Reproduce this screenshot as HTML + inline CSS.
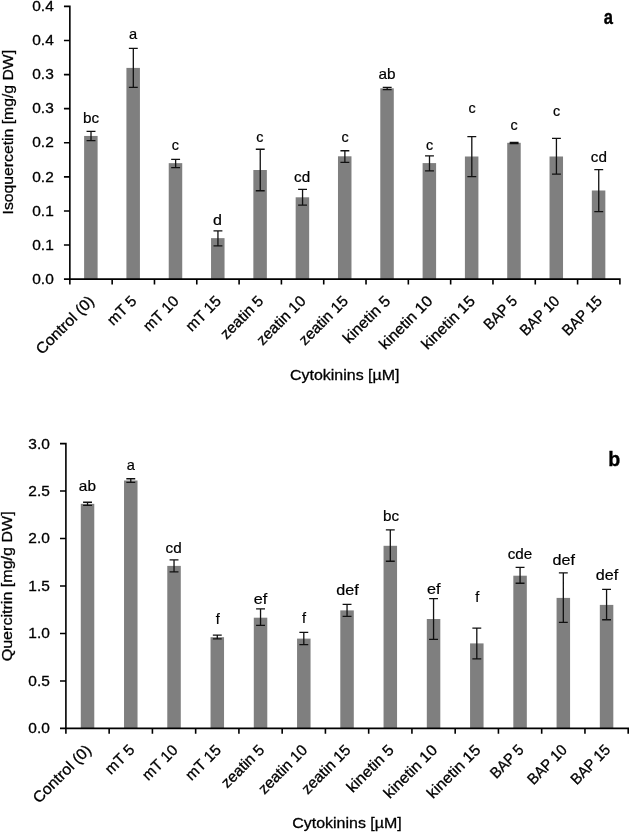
<!DOCTYPE html>
<html lang="en"><head><meta charset="utf-8"><title>Cytokinins charts</title>
<style>html,body{margin:0;padding:0;background:#fff}svg{display:block;will-change:transform}text{font-family:"Liberation Sans",sans-serif;font-size:15.3px;fill:#000;stroke:#000;stroke-width:.3px}.b{font-weight:bold;stroke-width:.35px}.l{font-size:14.5px;stroke-width:.2px}</style></head><body>
<svg width="629" height="832" viewBox="0 0 629 832">
<rect width="629" height="832" fill="#fff"/>
<g>
<rect x="84.11" y="135.95" width="13.50" height="143.15" fill="#7f7f7f"/>
<rect x="126.42" y="67.90" width="13.50" height="211.20" fill="#7f7f7f"/>
<rect x="168.73" y="163.15" width="13.50" height="115.95" fill="#7f7f7f"/>
<rect x="211.04" y="238.15" width="13.50" height="40.95" fill="#7f7f7f"/>
<rect x="253.35" y="170.00" width="13.50" height="109.10" fill="#7f7f7f"/>
<rect x="295.66" y="197.30" width="13.50" height="81.80" fill="#7f7f7f"/>
<rect x="337.98" y="156.30" width="13.50" height="122.80" fill="#7f7f7f"/>
<rect x="380.29" y="88.30" width="13.50" height="190.80" fill="#7f7f7f"/>
<rect x="422.60" y="163.10" width="13.50" height="116.00" fill="#7f7f7f"/>
<rect x="464.91" y="156.50" width="13.50" height="122.60" fill="#7f7f7f"/>
<rect x="507.22" y="142.80" width="13.50" height="136.30" fill="#7f7f7f"/>
<rect x="549.53" y="156.50" width="13.50" height="122.60" fill="#7f7f7f"/>
<rect x="591.84" y="190.50" width="13.50" height="88.60" fill="#7f7f7f"/>
<path d="M69.85 5.60V279.90M63.95 279.10H620.70M63.95 6.40H69.85M63.95 40.49H69.85M63.95 74.58H69.85M63.95 108.66H69.85M63.95 142.75H69.85M63.95 176.84H69.85M63.95 210.93H69.85M63.95 245.01H69.85M112.16 279.10V284.50M154.47 279.10V284.50M196.78 279.10V284.50M239.10 279.10V284.50M281.41 279.10V284.50M323.72 279.10V284.50M366.03 279.10V284.50M408.34 279.10V284.50M450.65 279.10V284.50M492.97 279.10V284.50M535.28 279.10V284.50M577.59 279.10V284.50M619.90 279.10V284.50M69.85 279.10V284.50" stroke="#000" stroke-width="1.6" fill="none"/>
<path d="M91.01 131.30V140.60M86.56 131.30H95.46M86.56 140.60H95.46M133.32 48.30V87.30M128.87 48.30H137.77M128.87 87.30H137.77M175.63 159.45V167.55M171.18 159.45H180.08M171.18 167.55H180.08M217.94 230.95V245.95M213.49 230.95H222.39M213.49 245.95H222.39M260.25 149.25V190.75M255.80 149.25H264.70M255.80 190.75H264.70M302.56 189.45V205.15M298.11 189.45H307.01M298.11 205.15H307.01M344.88 150.75V162.45M340.43 150.75H349.32M340.43 162.45H349.32M387.19 87.35V89.65M382.74 87.35H391.64M382.74 89.65H391.64M429.50 155.85V170.85M425.05 155.85H433.95M425.05 170.85H433.95M471.81 136.65V176.65M467.36 136.65H476.26M467.36 176.65H476.26M514.12 142.35V143.55M509.67 142.35H518.57M509.67 143.55H518.57M556.43 138.45V174.15M551.98 138.45H560.88M551.98 174.15H560.88M598.74 169.55V211.55M594.29 169.55H603.19M594.29 211.55H603.19" stroke="#111" stroke-width="1.3" fill="none"/>
<text x="53.80" y="283.80" text-anchor="end" textLength="21.52" lengthAdjust="spacingAndGlyphs">0.0</text>
<text x="53.80" y="249.71" text-anchor="end" textLength="21.52" lengthAdjust="spacingAndGlyphs">0.1</text>
<text x="53.80" y="215.62" text-anchor="end" textLength="21.52" lengthAdjust="spacingAndGlyphs">0.1</text>
<text x="53.80" y="181.54" text-anchor="end" textLength="21.52" lengthAdjust="spacingAndGlyphs">0.2</text>
<text x="53.80" y="147.45" text-anchor="end" textLength="21.52" lengthAdjust="spacingAndGlyphs">0.2</text>
<text x="53.80" y="113.36" text-anchor="end" textLength="21.52" lengthAdjust="spacingAndGlyphs">0.3</text>
<text x="53.80" y="79.27" text-anchor="end" textLength="21.52" lengthAdjust="spacingAndGlyphs">0.3</text>
<text x="53.80" y="45.19" text-anchor="end" textLength="21.52" lengthAdjust="spacingAndGlyphs">0.4</text>
<text x="53.80" y="11.10" text-anchor="end" textLength="21.52" lengthAdjust="spacingAndGlyphs">0.4</text>
<text class="l" x="91.10" y="122.60" text-anchor="middle" textLength="16.12" lengthAdjust="spacingAndGlyphs">bc</text>
<text class="l" x="133.00" y="38.70" text-anchor="middle" textLength="8.14" lengthAdjust="spacingAndGlyphs">a</text>
<text class="l" x="175.45" y="150.40" text-anchor="middle" textLength="7.19" lengthAdjust="spacingAndGlyphs">c</text>
<text class="l" x="217.40" y="225.00" text-anchor="middle" textLength="8.93" lengthAdjust="spacingAndGlyphs">d</text>
<text class="l" x="259.95" y="141.60" text-anchor="middle" textLength="7.19" lengthAdjust="spacingAndGlyphs">c</text>
<text class="l" x="302.15" y="182.00" text-anchor="middle" textLength="16.12" lengthAdjust="spacingAndGlyphs">cd</text>
<text class="l" x="345.00" y="141.60" text-anchor="middle" textLength="7.19" lengthAdjust="spacingAndGlyphs">c</text>
<text class="l" x="386.95" y="79.40" text-anchor="middle" textLength="17.07" lengthAdjust="spacingAndGlyphs">ab</text>
<text class="l" x="429.70" y="149.90" text-anchor="middle" textLength="7.19" lengthAdjust="spacingAndGlyphs">c</text>
<text class="l" x="472.10" y="113.30" text-anchor="middle" textLength="7.19" lengthAdjust="spacingAndGlyphs">c</text>
<text class="l" x="514.20" y="129.80" text-anchor="middle" textLength="7.19" lengthAdjust="spacingAndGlyphs">c</text>
<text class="l" x="556.55" y="115.80" text-anchor="middle" textLength="7.19" lengthAdjust="spacingAndGlyphs">c</text>
<text class="l" x="598.90" y="161.60" text-anchor="middle" textLength="16.12" lengthAdjust="spacingAndGlyphs">cd</text>
<text transform="translate(95.11 302.00) rotate(-45)" text-anchor="end" textLength="75.26" lengthAdjust="spacingAndGlyphs">Control (0)</text>
<text transform="translate(137.42 302.00) rotate(-45)" text-anchor="end" textLength="34.32" lengthAdjust="spacingAndGlyphs">mT 5</text>
<text transform="translate(179.73 302.00) rotate(-45)" text-anchor="end" textLength="42.94" lengthAdjust="spacingAndGlyphs">mT 10</text>
<text transform="translate(222.04 302.00) rotate(-45)" text-anchor="end" textLength="42.94" lengthAdjust="spacingAndGlyphs">mT 15</text>
<text transform="translate(264.35 302.00) rotate(-45)" text-anchor="end" textLength="53.64" lengthAdjust="spacingAndGlyphs">zeatin 5</text>
<text transform="translate(306.66 302.00) rotate(-45)" text-anchor="end" textLength="62.26" lengthAdjust="spacingAndGlyphs">zeatin 10</text>
<text transform="translate(348.98 302.00) rotate(-45)" text-anchor="end" textLength="62.26" lengthAdjust="spacingAndGlyphs">zeatin 15</text>
<text transform="translate(391.29 302.00) rotate(-45)" text-anchor="end" textLength="59.79" lengthAdjust="spacingAndGlyphs">kinetin 5</text>
<text transform="translate(433.60 302.00) rotate(-45)" text-anchor="end" textLength="68.41" lengthAdjust="spacingAndGlyphs">kinetin 10</text>
<text transform="translate(475.91 302.00) rotate(-45)" text-anchor="end" textLength="68.41" lengthAdjust="spacingAndGlyphs">kinetin 15</text>
<text transform="translate(518.22 302.00) rotate(-45)" text-anchor="end" textLength="40.16" lengthAdjust="spacingAndGlyphs">BAP 5</text>
<text transform="translate(560.53 302.00) rotate(-45)" text-anchor="end" textLength="48.78" lengthAdjust="spacingAndGlyphs">BAP 10</text>
<text transform="translate(602.84 302.00) rotate(-45)" text-anchor="end" textLength="48.78" lengthAdjust="spacingAndGlyphs">BAP 15</text>
<text x="344.70" y="379.60" text-anchor="middle" textLength="109.53" lengthAdjust="spacingAndGlyphs">Cytokinins [µM]</text>
<text transform="translate(12.50 132.20) rotate(-90)" text-anchor="middle" textLength="164.57" lengthAdjust="spacingAndGlyphs">Isoquercetin [mg/g DW]</text>
<text class="b" x="608.40" y="23.50" text-anchor="middle" style="font-size:19.7px" textLength="9.20" lengthAdjust="spacingAndGlyphs">a</text>
</g>
<g>
<rect x="80.78" y="503.85" width="13.50" height="224.55" fill="#7f7f7f"/>
<rect x="124.03" y="480.50" width="13.50" height="247.90" fill="#7f7f7f"/>
<rect x="167.28" y="565.90" width="13.50" height="162.50" fill="#7f7f7f"/>
<rect x="210.54" y="637.20" width="13.50" height="91.20" fill="#7f7f7f"/>
<rect x="253.79" y="617.70" width="13.50" height="110.70" fill="#7f7f7f"/>
<rect x="297.05" y="638.60" width="13.50" height="89.80" fill="#7f7f7f"/>
<rect x="340.30" y="610.40" width="13.50" height="118.00" fill="#7f7f7f"/>
<rect x="383.55" y="545.80" width="13.50" height="182.60" fill="#7f7f7f"/>
<rect x="426.81" y="619.00" width="13.50" height="109.40" fill="#7f7f7f"/>
<rect x="470.06" y="643.40" width="13.50" height="85.00" fill="#7f7f7f"/>
<rect x="513.32" y="575.70" width="13.50" height="152.70" fill="#7f7f7f"/>
<rect x="556.57" y="597.90" width="13.50" height="130.50" fill="#7f7f7f"/>
<rect x="599.82" y="604.90" width="13.50" height="123.50" fill="#7f7f7f"/>
<path d="M65.90 442.80V729.20M60.00 728.40H629.00M60.00 443.60H65.90M60.00 491.07H65.90M60.00 538.53H65.90M60.00 586.00H65.90M60.00 633.47H65.90M60.00 680.93H65.90M109.15 728.40V733.80M152.41 728.40V733.80M195.66 728.40V733.80M238.92 728.40V733.80M282.17 728.40V733.80M325.42 728.40V733.80M368.68 728.40V733.80M411.93 728.40V733.80M455.18 728.40V733.80M498.44 728.40V733.80M541.69 728.40V733.80M584.95 728.40V733.80M628.20 728.40V733.80M65.90 728.40V733.80" stroke="#000" stroke-width="1.6" fill="none"/>
<path d="M87.53 502.25V505.45M83.08 502.25H91.98M83.08 505.45H91.98M130.78 478.75V482.35M126.33 478.75H135.23M126.33 482.35H135.23M174.03 559.85V571.95M169.58 559.85H178.48M169.58 571.95H178.48M217.29 635.15V638.85M212.84 635.15H221.74M212.84 638.85H221.74M260.54 608.95V625.35M256.09 608.95H264.99M256.09 625.35H264.99M303.80 632.35V644.65M299.35 632.35H308.25M299.35 644.65H308.25M347.05 604.35V616.45M342.60 604.35H351.50M342.60 616.45H351.50M390.30 529.85V561.25M385.85 529.85H394.75M385.85 561.25H394.75M433.56 598.65V639.45M429.11 598.65H438.01M429.11 639.45H438.01M476.81 628.15V658.85M472.36 628.15H481.26M472.36 658.85H481.26M520.07 567.35V583.25M515.62 567.35H524.52M515.62 583.25H524.52M563.32 572.95V622.45M558.87 572.95H567.77M558.87 622.45H567.77M606.57 589.45V619.75M602.12 589.45H611.02M602.12 619.75H611.02" stroke="#111" stroke-width="1.3" fill="none"/>
<text x="49.90" y="733.30" text-anchor="end" textLength="21.52" lengthAdjust="spacingAndGlyphs">0.0</text>
<text x="49.90" y="685.83" text-anchor="end" textLength="21.52" lengthAdjust="spacingAndGlyphs">0.5</text>
<text x="49.90" y="638.37" text-anchor="end" textLength="21.52" lengthAdjust="spacingAndGlyphs">1.0</text>
<text x="49.90" y="590.90" text-anchor="end" textLength="21.52" lengthAdjust="spacingAndGlyphs">1.5</text>
<text x="49.90" y="543.43" text-anchor="end" textLength="21.52" lengthAdjust="spacingAndGlyphs">2.0</text>
<text x="49.90" y="495.97" text-anchor="end" textLength="21.52" lengthAdjust="spacingAndGlyphs">2.5</text>
<text x="49.90" y="448.50" text-anchor="end" textLength="21.52" lengthAdjust="spacingAndGlyphs">3.0</text>
<text class="l" x="87.40" y="490.80" text-anchor="middle" textLength="17.07" lengthAdjust="spacingAndGlyphs">ab</text>
<text class="l" x="130.80" y="469.90" text-anchor="middle" textLength="8.14" lengthAdjust="spacingAndGlyphs">a</text>
<text class="l" x="173.70" y="552.70" text-anchor="middle" textLength="16.12" lengthAdjust="spacingAndGlyphs">cd</text>
<text class="l" x="217.65" y="624.10" text-anchor="middle">f</text>
<text class="l" x="260.60" y="604.10" text-anchor="middle" textLength="13.50" lengthAdjust="spacingAndGlyphs">ef</text>
<text class="l" x="304.00" y="622.70" text-anchor="middle">f</text>
<text class="l" x="347.50" y="595.20" text-anchor="middle" textLength="22.43" lengthAdjust="spacingAndGlyphs">def</text>
<text class="l" x="391.00" y="520.90" text-anchor="middle" textLength="16.12" lengthAdjust="spacingAndGlyphs">bc</text>
<text class="l" x="433.75" y="593.60" text-anchor="middle" textLength="13.50" lengthAdjust="spacingAndGlyphs">ef</text>
<text class="l" x="477.25" y="601.90" text-anchor="middle">f</text>
<text class="l" x="520.00" y="559.20" text-anchor="middle" textLength="24.58" lengthAdjust="spacingAndGlyphs">cde</text>
<text class="l" x="563.70" y="564.80" text-anchor="middle" textLength="22.43" lengthAdjust="spacingAndGlyphs">def</text>
<text class="l" x="606.95" y="579.70" text-anchor="middle" textLength="22.43" lengthAdjust="spacingAndGlyphs">def</text>
<text transform="translate(92.13 750.90) rotate(-45)" text-anchor="end" textLength="75.26" lengthAdjust="spacingAndGlyphs">Control (0)</text>
<text transform="translate(135.38 750.90) rotate(-45)" text-anchor="end" textLength="34.32" lengthAdjust="spacingAndGlyphs">mT 5</text>
<text transform="translate(178.63 750.90) rotate(-45)" text-anchor="end" textLength="42.94" lengthAdjust="spacingAndGlyphs">mT 10</text>
<text transform="translate(221.89 750.90) rotate(-45)" text-anchor="end" textLength="42.94" lengthAdjust="spacingAndGlyphs">mT 15</text>
<text transform="translate(265.14 750.90) rotate(-45)" text-anchor="end" textLength="53.64" lengthAdjust="spacingAndGlyphs">zeatin 5</text>
<text transform="translate(308.40 750.90) rotate(-45)" text-anchor="end" textLength="62.26" lengthAdjust="spacingAndGlyphs">zeatin 10</text>
<text transform="translate(351.65 750.90) rotate(-45)" text-anchor="end" textLength="62.26" lengthAdjust="spacingAndGlyphs">zeatin 15</text>
<text transform="translate(394.90 750.90) rotate(-45)" text-anchor="end" textLength="59.79" lengthAdjust="spacingAndGlyphs">kinetin 5</text>
<text transform="translate(438.16 750.90) rotate(-45)" text-anchor="end" textLength="68.41" lengthAdjust="spacingAndGlyphs">kinetin 10</text>
<text transform="translate(481.41 750.90) rotate(-45)" text-anchor="end" textLength="68.41" lengthAdjust="spacingAndGlyphs">kinetin 15</text>
<text transform="translate(524.67 750.90) rotate(-45)" text-anchor="end" textLength="40.16" lengthAdjust="spacingAndGlyphs">BAP 5</text>
<text transform="translate(567.92 750.90) rotate(-45)" text-anchor="end" textLength="48.78" lengthAdjust="spacingAndGlyphs">BAP 10</text>
<text transform="translate(611.17 750.90) rotate(-45)" text-anchor="end" textLength="48.78" lengthAdjust="spacingAndGlyphs">BAP 15</text>
<text x="347.00" y="828.10" text-anchor="middle" textLength="109.53" lengthAdjust="spacingAndGlyphs">Cytokinins [µM]</text>
<text transform="translate(12.30 586.30) rotate(-90)" text-anchor="middle" textLength="150.10" lengthAdjust="spacingAndGlyphs">Quercitrin [mg/g DW]</text>
<text class="b" x="614.20" y="466.10" text-anchor="middle" style="font-size:20.7px" textLength="12.00" lengthAdjust="spacingAndGlyphs">b</text>
</g>
</svg></body></html>
